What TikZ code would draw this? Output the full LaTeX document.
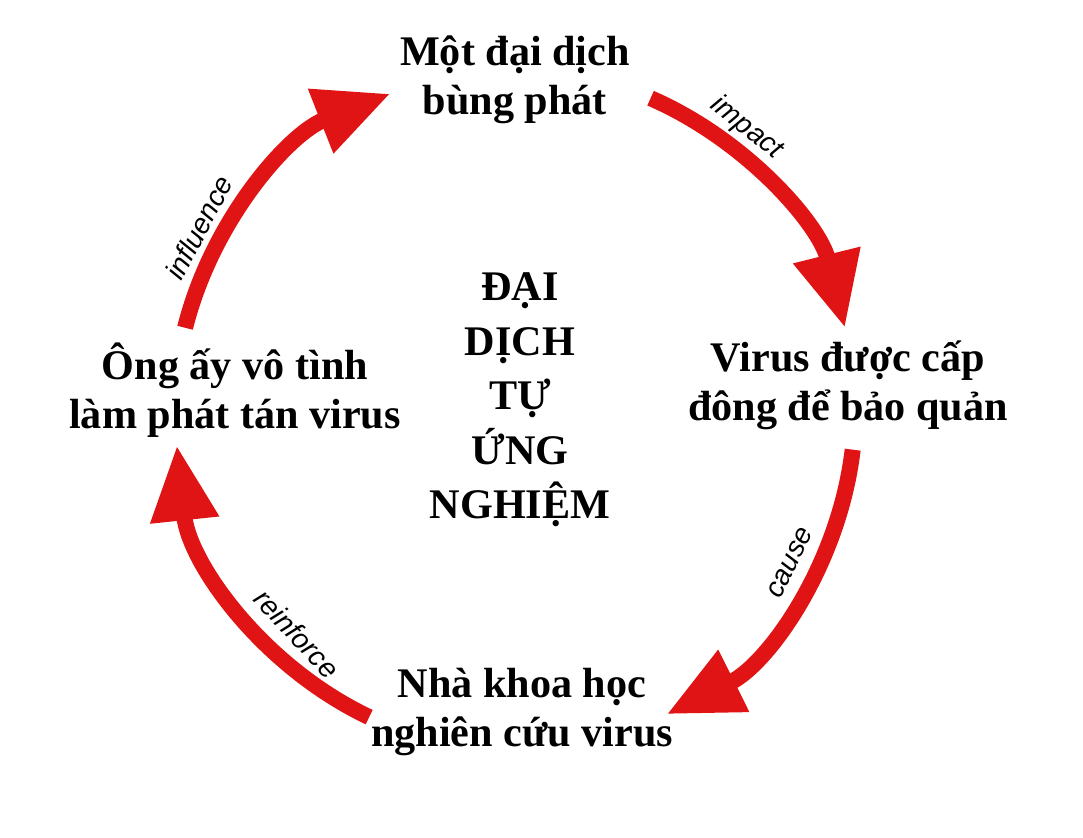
\documentclass[tikz,border=0pt]{standalone}
\usepackage{fontspec}
\setmainfont{Liberation Serif}
\setsansfont{Liberation Sans}
\usetikzlibrary{arrows.meta}
\definecolor{cyclered}{HTML}{E01414}
\begin{document}
\begin{tikzpicture}[line cap=butt]
  % styles
  \tikzset{
    stage/.style={font=\bfseries\fontsize{24}{28}\selectfont, align=center},
    loop/.style={cyclered, line width=3.2mm,
      -{Triangle[length=15mm, width=13mm]}},
    verb/.style={font=\sffamily\itshape\fontsize{16}{18}\selectfont}
  }
  \def\rad{6.8}
  \useasboundingbox (-10.3,8.2) rectangle (11.36,-8.54);

  % ----- stages -----
  \node[stage] (outbreak) at (0,6.6) {Một đại dịch\\bùng phát};
  \node[stage] (frozen) at (6.66,0.5) {Virus được cấp\\đông để bảo quản};
  \node[stage] (study) at (0.14,-6.04) {Nhà khoa học\\nghiên cứu virus};
  \node[stage] (spread) at (-5.6,0.4) {Ông ấy vô tình\\làm phát tán virus};
  \node[stage, font=\bfseries\fontsize{24}{31}\selectfont] (title) at (0.1,0.2)
    {ĐẠI\\DỊCH\\TỰ\\ỨNG\\NGHIỆM};

  % ----- arcs -----
  \draw[loop] (66.5:\rad) arc[start angle=66.5, end angle=14, radius=\rad];
  \draw[loop] (-6.7:\rad) arc[start angle=-6.7, end angle=-63.5, radius=\rad];
  \draw[loop] (-115.4:\rad) arc[start angle=-115.4, end angle=-174, radius=\rad];
  \draw[loop] (166:\rad) arc[start angle=166, end angle=111.5, radius=\rad];

  % ----- labels -----
  \node[verb, rotate=-39] (impact) at (50.6:7.3) {impact};
  \node[verb, rotate=64] (cause) at (-29:6.3) {cause};
  \node[verb, rotate=-47] (reinforce) at (-134.3:6.25) {reinforce};
  \node[verb, rotate=62] (influence) at (150:7.3) {influence};
\end{tikzpicture}
\end{document}
